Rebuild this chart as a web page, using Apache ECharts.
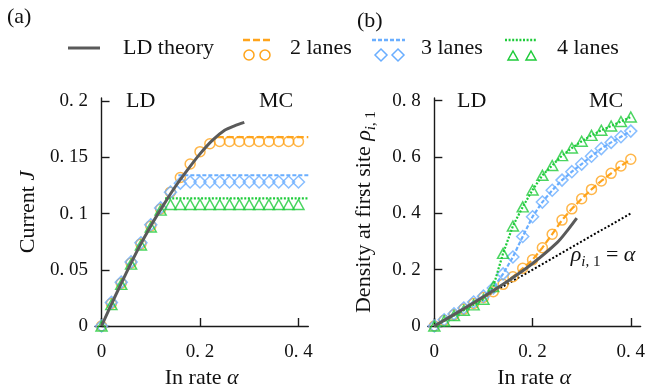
<!DOCTYPE html>
<html>
<head>
<meta charset="utf-8">
<script src="https://cdn.jsdelivr.net/npm/echarts@6/dist/echarts.min.js"></script>
<style>
  html, body { margin: 0; padding: 0; background: #ffffff; }
  #chart { width: 657px; height: 390px; }
</style>
</head>
<body>
<div id="chart"></div>
<script>
// In-rate values shared by every simulated series
const alpha = [0, 0.02, 0.04, 0.06, 0.08, 0.10, 0.12, 0.14, 0.16, 0.18, 0.20,
               0.22, 0.24, 0.26, 0.28, 0.30, 0.32, 0.34, 0.36, 0.38, 0.40];

// (a) current J from Monte Carlo
const currentTwo   = [0, 0.020, 0.038, 0.056, 0.073, 0.089, 0.104, 0.119, 0.132, 0.144, 0.155,
                      0.162, 0.164, 0.164, 0.164, 0.164, 0.164, 0.164, 0.164, 0.164, 0.164];
const currentThree = [0, 0.021, 0.039, 0.057, 0.074, 0.090, 0.105, 0.119, 0.127, 0.128, 0.128,
                      0.128, 0.128, 0.128, 0.128, 0.128, 0.128, 0.128, 0.128, 0.128, 0.128];
const currentFour  = [0, 0.019, 0.037, 0.055, 0.072, 0.088, 0.103, 0.108, 0.108, 0.108, 0.108,
                      0.108, 0.108, 0.108, 0.108, 0.108, 0.108, 0.108, 0.108, 0.108, 0.108];

// (a) maximal-current plateaus: start alpha, common end, and level
const plateauStart = [0.234, 0.156, 0.129];
const plateauEnd = 0.42;
const plateauLevel = [0.168, 0.134, 0.1135];

// LD theory curves
const ldAlphaA = [0, 0.025, 0.05, 0.075, 0.10, 0.125, 0.15, 0.175, 0.20, 0.225, 0.25, 0.27, 0.29];
const ldCurrent = [0, 0.024, 0.047, 0.069, 0.089, 0.107, 0.124, 0.139, 0.153, 0.165, 0.174, 0.178, 0.181];
const ldAlphaB = [0, 0.05, 0.10, 0.15, 0.20, 0.25, 0.27, 0.29];
const ldDensity = [0, 0.051, 0.104, 0.160, 0.222, 0.296, 0.337, 0.383];

// (b) density at the first site
const densityTwo   = [0, 0.020, 0.040, 0.060, 0.080, 0.101, 0.122, 0.148, 0.175, 0.205, 0.235,
                      0.278, 0.326, 0.376, 0.416, 0.452, 0.485, 0.515, 0.542, 0.568, 0.592];
const densityThree = [0, 0.022, 0.043, 0.064, 0.085, 0.106, 0.135, 0.185, 0.245, 0.318, 0.388,
                      0.440, 0.482, 0.518, 0.548, 0.575, 0.603, 0.630, 0.652, 0.672, 0.692];
const densityFour  = [0, 0.018, 0.037, 0.056, 0.075, 0.095, 0.140, 0.258, 0.355, 0.423, 0.483,
                      0.535, 0.570, 0.605, 0.632, 0.656, 0.677, 0.695, 0.710, 0.726, 0.742];

// reference line rho = alpha
const identityAlpha = [0, 0.40];

// tick positions
const xTicks = [0, 0.2, 0.4];
const yTicksA = [0, 0.05, 0.1, 0.15, 0.2];
const yTicksB = [0, 0.2, 0.4, 0.6, 0.8];

const ORANGE = '#FFA41B';
const BLUE = '#6AAEFF';
const GREEN = '#1ECB3A';
const GRAY = '#5a5a5a';
const AXIS = '#1a1a1a';
const INK = '#111111';
const FONT = '"Liberation Serif", "DejaVu Serif", serif';
const TITLE_SIZE = 22;
const SUB_SIZE = 15;

const pairs = (xs, ys) => xs.map((x, i) => [x, ys[i]]);
const tickText = v => (v === 0 ? '0' : String(v).replace('.', '. '));

const richText = {
  n: { fontFamily: FONT, fontSize: TITLE_SIZE, color: INK, lineHeight: 30 },
  it: { fontFamily: FONT, fontSize: TITLE_SIZE, fontStyle: 'italic', color: INK, lineHeight: 30 },
  sub: { fontFamily: FONT, fontSize: SUB_SIZE, fontStyle: 'italic', color: INK, lineHeight: 15, verticalAlign: 'bottom' },
  subn: { fontFamily: FONT, fontSize: SUB_SIZE, color: INK, lineHeight: 15, verticalAlign: 'bottom' }
};

function valueX(gridIndex) {
  return {
    type: 'value', gridIndex, min: -0.0133, max: 0.42,
    axisLine: { onZero: true, lineStyle: { color: AXIS, width: 1.4 } },
    axisTick: { inside: true, length: 8, customValues: xTicks, lineStyle: { color: AXIS, width: 1.4 } },
    axisLabel: { customValues: xTicks, formatter: tickText, margin: 17,
                 fontFamily: FONT, fontSize: 19, color: INK },
    splitLine: { show: false },
    name: '{n|In rate }{it|α}', nameLocation: 'middle', nameGap: 36,
    nameTextStyle: { rich: richText }
  };
}

function valueY(gridIndex, max, ticks, name, gap) {
  return {
    type: 'value', gridIndex, min: 0, max,
    axisLine: { show: true, onZero: true, lineStyle: { color: AXIS, width: 1.4 } },
    axisTick: { show: true, inside: true, length: 8, customValues: ticks, lineStyle: { color: AXIS, width: 1.4 } },
    axisLabel: { customValues: ticks, formatter: tickText, margin: 7,
                 fontFamily: FONT, fontSize: 19, color: INK },
    splitLine: { show: false },
    name, nameLocation: 'middle', nameGap: gap,
    nameTextStyle: { rich: richText }
  };
}

function markers(xi, ys, symbol, size, color) {
  return {
    type: 'scatter', xAxisIndex: xi, yAxisIndex: xi, data: pairs(alpha, ys),
    symbol, symbolSize: size, clip: false, z: 3,
    itemStyle: { color: 'rgba(0,0,0,0)', borderColor: color, borderWidth: 1.5 }
  };
}

function curve(xi, data, color, width, dash, z, smooth) {
  return {
    type: 'line', xAxisIndex: xi, yAxisIndex: xi, data, showSymbol: false, symbol: 'none',
    smooth: smooth || false, clip: false, z,
    lineStyle: { color, width, type: dash }
  };
}

const chart = echarts.init(document.getElementById('chart'), null, { renderer: 'canvas' });

const label = (x, y, text, size) => ({
  type: 'text', left: x, top: y,
  style: { text, fontFamily: FONT, fontSize: size || 22, fill: INK }
});

chart.setOption({
  animation: false,
  backgroundColor: '#ffffff',
  grid: [
    { left: 95, top: 98, width: 213.3, height: 228, containLabel: false, outerBoundsMode: 'none' },
    { left: 427.8, top: 98, width: 212.8, height: 228, containLabel: false, outerBoundsMode: 'none' }
  ],
  xAxis: [valueX(0), valueX(1)],
  yAxis: [
    valueY(0, 0.2027, yTicksA, '{n|Current }{it|J}', 52),
    valueY(1, 0.8096, yTicksB, '{n|Density at first site }{it|ρ}{sub|i}{subn|, 1}', 49)
  ],
  series: [
    // (a)
    markers(0, currentTwo, 'circle', 10, ORANGE),
    markers(0, currentThree, 'diamond', 12, BLUE),
    markers(0, currentFour, 'triangle', [11, 10], GREEN),
    curve(0, [[plateauStart[0], plateauLevel[0]], [plateauEnd, plateauLevel[0]]], ORANGE, 2.2, [7, 3], 4),
    curve(0, [[plateauStart[1], plateauLevel[1]], [plateauEnd, plateauLevel[1]]], BLUE, 2.2, [4, 2], 4),
    curve(0, [[plateauStart[2], plateauLevel[2]], [plateauEnd, plateauLevel[2]]], GREEN, 2.2, [2, 1.6], 4),
    curve(0, pairs(ldAlphaA, ldCurrent), GRAY, 3, 'solid', 5, 0.3),
    // (b)
    curve(1, pairs(identityAlpha, identityAlpha), '#000', 2, [2, 2], 2),
    markers(1, densityTwo, 'circle', 10, ORANGE),
    markers(1, densityThree, 'diamond', 12, BLUE),
    markers(1, densityFour, 'triangle', [11, 10], GREEN),
    curve(1, pairs(alpha, densityTwo), ORANGE, 2.2, [7, 3], 4),
    curve(1, pairs(alpha, densityThree), BLUE, 2.2, [4, 2], 4),
    curve(1, pairs(alpha, densityFour), GREEN, 2.2, [2, 1.6], 4),
    Object.assign(curve(1, pairs(ldAlphaB, ldDensity), GRAY, 3, 'solid', 5, 0.3), {
      markPoint: {
        symbol: 'circle', symbolSize: 0, silent: true,
        data: [{ coord: [0.3436, 0.252] }],
        label: {
          show: true, position: 'inside',
          formatter: '{it|ρ}{sub|i}{subn|, 1}{n| = }{it|α}',
          rich: richText
        }
      }
    })
  ],
  graphic: [
    label(7, 6, '(a)', 22),
    label(357, 10, '(b)', 22),
    label(126, 90, 'LD'),
    label(259, 90, 'MC'),
    label(457, 90, 'LD'),
    label(589, 90, 'MC'),
    // legend
    { type: 'line', shape: { x1: 68, y1: 48, x2: 100, y2: 48 }, style: { stroke: GRAY, lineWidth: 3 } },
    label(123, 37, 'LD theory'),
    { type: 'line', shape: { x1: 243, y1: 40, x2: 271, y2: 40 }, style: { stroke: ORANGE, lineWidth: 2.5, lineDash: [7, 3] } },
    { type: 'circle', shape: { cx: 249, cy: 55, r: 5 }, style: { fill: 'none', stroke: ORANGE, lineWidth: 1.5 } },
    { type: 'circle', shape: { cx: 265, cy: 55, r: 5 }, style: { fill: 'none', stroke: ORANGE, lineWidth: 1.5 } },
    label(290, 37, '2 lanes'),
    { type: 'line', shape: { x1: 372, y1: 40, x2: 405, y2: 40 }, style: { stroke: BLUE, lineWidth: 2.5, lineDash: [4, 2] } },
    { type: 'polygon', shape: { points: [[381, 49], [387, 55], [381, 61], [375, 55]] }, style: { fill: 'none', stroke: BLUE, lineWidth: 1.5 } },
    { type: 'polygon', shape: { points: [[398, 49], [404, 55], [398, 61], [392, 55]] }, style: { fill: 'none', stroke: BLUE, lineWidth: 1.5 } },
    label(421, 37, '3 lanes'),
    { type: 'line', shape: { x1: 505, y1: 40, x2: 537, y2: 40 }, style: { stroke: GREEN, lineWidth: 2.5, lineDash: [2, 1.6] } },
    { type: 'polygon', shape: { points: [[513, 51], [518, 60], [508, 60]] }, style: { fill: 'none', stroke: GREEN, lineWidth: 1.5 } },
    { type: 'polygon', shape: { points: [[531, 51], [536, 60], [526, 60]] }, style: { fill: 'none', stroke: GREEN, lineWidth: 1.5 } },
    label(557, 37, '4 lanes')
  ]
});
</script>
</body>
</html>
